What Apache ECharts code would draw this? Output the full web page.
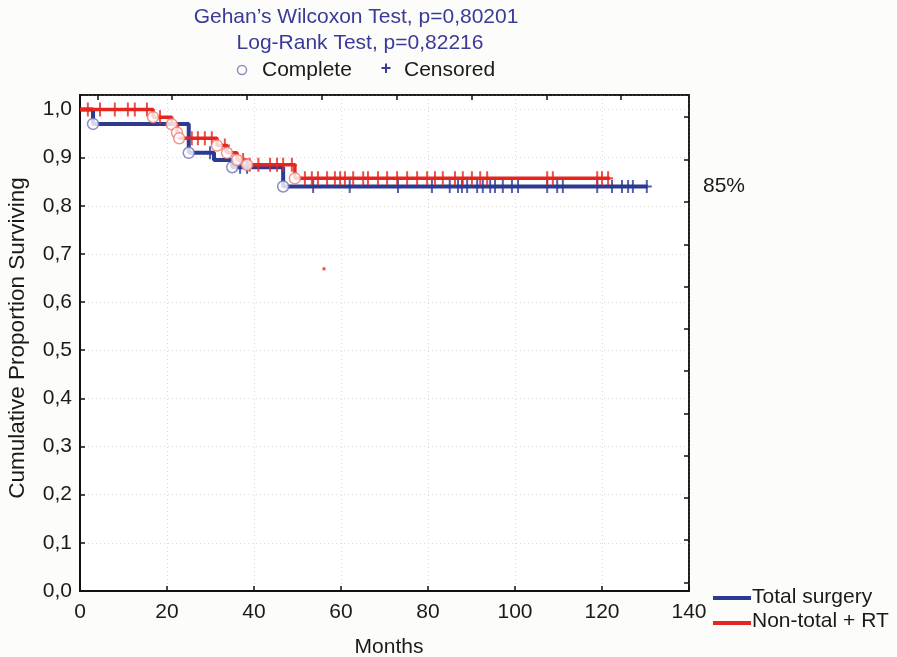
<!DOCTYPE html>
<html>
<head>
<meta charset="utf-8">
<script src="https://cdn.jsdelivr.net/npm/echarts@6/dist/echarts.min.js"></script>
<style>
html,body{margin:0;padding:0;background:#fcfcfa;}
#chart{width:897px;height:657px;}
</style>
</head>
<body>
<div id="chart"></div>
<script>
// ---- data ----
const titleLines = ['Gehan\u2019s Wilcoxon Test, p=0,80201', 'Log-Rank Test, p=0,82216'];
const seriesNames = ['Total surgery', 'Non-total + RT'];
const xTicks = [0, 20, 40, 60, 80, 100, 120, 140];
const yTicks = [0, 0.1, 0.2, 0.3, 0.4, 0.5, 0.6, 0.7, 0.8, 0.9, 1.0];
const topTickValues = [4.1, 21.2, 38.4, 55.6, 72.9, 90.0, 107.2, 124.4];
const rightTickValues = [0.018, 0.106, 0.194, 0.281, 0.369, 0.457, 0.545, 0.632, 0.720, 0.808, 0.896, 0.984];

// Kaplan-Meier steps: [time (months), survival after event]
const blueSteps = [[0, 1.0], [3, 0.97], [25, 0.91], [30.8, 0.895], [35, 0.88], [46.7, 0.84]];
const blueEnd = 130.5;
const blueEvents = [3, 25, 35, 46.7];
const blueCensored = [29.9, 36.8, 38.4, 53.6, 62, 73.1, 80.9, 85, 86.9, 87.8, 89, 91.3, 92.6, 94.3, 95.4, 97.2, 99.3, 100.7, 107.4, 109.7, 111, 118.9, 122.3, 124.6, 126, 127.1, 130.3];

const redSteps = [[0, 1.0], [16.8, 0.984], [21.1, 0.969], [22.3, 0.952], [22.8, 0.94], [31.5, 0.925], [33.8, 0.91], [36.1, 0.895], [38.4, 0.885], [49.4, 0.857]];
const redEnd = 121.8;
const redEvents = [16.8, 21.1, 22.3, 22.8, 31.5, 33.8, 36.1, 38.4, 49.4];
const redCensored = [1.8, 4.6, 8.0, 11.0, 12.6, 15.4, 18.4, 25.7, 27.1, 28.7, 30.3, 33.3, 37.5, 39.0, 41.0, 43.7, 45.3, 46.7, 48.7, 51.7, 53.3, 54.7, 56.8, 58.6, 59.8, 60.9, 62.8, 65.1, 66.2, 68.5, 70.6, 72.9, 75.2, 77.5, 79.8, 81.6, 83.4, 86.2, 88.0, 90.1, 92.0, 93.6, 107.4, 108.7, 118.9, 120.0, 121.4];
const strayPoint = [[56.1, 0.669]];
const finalLabel = '85%';
const xName = 'Months';
const yName = 'Cumulative Proportion Surviving';

// ---- helpers ----
function survAt(steps, t) {
  let s = steps[0][1];
  for (const p of steps) { if (p[0] <= t) s = p[1]; }
  return s;
}
function lineData(steps, end) { return steps.concat([[end, steps[steps.length - 1][1]]]); }
function pts(steps, times) { return times.map(t => [t, survAt(steps, t)]); }

const BLUE = '#2c3a92', RED = '#e5261e';
const BLUE_C = '#6f73b6', RED_C = '#ee7a6c';
const PLUS = 'path://M-1,-6H1V-1H5V1H1V6H-1V1H-5V-1H-1Z';
const FONT = 'Liberation Sans, Arial, sans-serif';
const FS = 21;

const chart = echarts.init(document.getElementById('chart'));
chart.setOption({
  backgroundColor: '#fcfcfa',
  animation: false,
  textStyle: { fontFamily: FONT },
  grid: { left: 80, right: 208, top: 95, bottom: 66, containLabel: false, outerBoundsMode: 'none',
    show: true, backgroundColor: '#ffffff', borderColor: '#111', borderWidth: 1.5 },
  xAxis: [{
    type: 'value', min: 0, max: 140, interval: 20,
    axisLine: { show: true, lineStyle: { color: '#111', width: 2 } },
    axisTick: { inside: true, length: 5, lineStyle: { color: '#111', width: 1.5 } },
    axisLabel: { fontSize: FS, color: '#1a1a1a', margin: 11, fontFamily: FONT },
    splitLine: { show: true, lineStyle: { color: '#d9d9d9', type: [1, 3], width: 1 } }
  }, {
    type: 'value', min: 0, max: 140, position: 'top',
    axisLine: { show: true, onZero: false, lineStyle: { color: '#111', width: 1.5 } },
    axisTick: { show: true, inside: true, length: 5, customValues: topTickValues, lineStyle: { color: '#111', width: 1.5 } },
    axisLabel: { show: false },
    splitLine: { show: false }
  }],
  yAxis: [{
    type: 'value', min: 0, max: 1.03, interval: 0.1,
    axisLine: { show: true, onZero: false, lineStyle: { color: '#111', width: 2 } },
    axisTick: { inside: true, length: 5, lineStyle: { color: '#111', width: 1.5 } },
    axisLabel: { fontSize: FS, color: '#1a1a1a', margin: 8, showMaxLabel: false, fontFamily: FONT,
      formatter: v => (yTicks.some(t => Math.abs(t - v) < 1e-6) ? v.toFixed(1).replace('.', ',') : '') },
    splitLine: { show: true, lineStyle: { color: '#d9d9d9', type: [1, 3], width: 1 } }
  }, {
    type: 'value', min: 0, max: 1.03, position: 'right',
    axisLine: { show: true, onZero: false, lineStyle: { color: '#111', width: 1.5 } },
    axisTick: { show: true, inside: true, length: 5, customValues: rightTickValues, lineStyle: { color: '#111', width: 1.5 } },
    axisLabel: { show: false },
    splitLine: { show: false }
  }],
  series: [
    { name: seriesNames[0], type: 'line', step: 'end', data: lineData(blueSteps, blueEnd), showSymbol: false,
      lineStyle: { color: BLUE, width: 4 }, z: 2 },
    { name: seriesNames[1], type: 'line', step: 'end', data: lineData(redSteps, redEnd), showSymbol: false,
      lineStyle: { color: RED, width: 3.5 }, z: 3 },
    { type: 'scatter', data: pts(blueSteps, blueCensored), symbol: PLUS, symbolSize: [10, 13],
      itemStyle: { color: BLUE }, z: 4 },
    { type: 'scatter', data: pts(redSteps, redCensored), symbol: PLUS, symbolSize: [10, 14],
      itemStyle: { color: RED }, z: 5 },
    { type: 'scatter', data: pts(blueSteps, blueEvents), symbol: 'circle', symbolSize: 11,
      itemStyle: { color: '#fff', borderColor: BLUE_C, borderWidth: 1.5 }, z: 6 },
    { type: 'scatter', data: pts(redSteps, redEvents), symbol: 'circle', symbolSize: 11,
      itemStyle: { color: '#fff', borderColor: RED_C, borderWidth: 1.5 }, z: 7 },
    { type: 'scatter', data: strayPoint, symbol: 'rect', symbolSize: 3, itemStyle: { color: RED }, z: 8 }
  ],
  graphic: [
    { type: 'text', x: 356, y: 17, style: { text: titleLines[0], fontSize: FS, fill: '#3a3a98', fontFamily: FONT, align: 'center', verticalAlign: 'middle' } },
    { type: 'text', x: 360, y: 43, style: { text: titleLines[1], fontSize: FS, fill: '#3a3a98', fontFamily: FONT, align: 'center', verticalAlign: 'middle' } },
    { type: 'circle', shape: { cx: 242, cy: 70, r: 4.5 }, style: { fill: '#fff', stroke: '#8a8dc0', lineWidth: 1.5 } },
    { type: 'text', x: 262, y: 70, style: { text: 'Complete', fontSize: FS, fill: '#1a1a1a', fontFamily: FONT, verticalAlign: 'middle' } },
    { type: 'text', x: 386, y: 69, style: { text: '+', fontSize: 18, fontWeight: 'bold', fill: '#3a3a98', fontFamily: FONT, align: 'center', verticalAlign: 'middle' } },
    { type: 'text', x: 404, y: 70, style: { text: 'Censored', fontSize: FS, fill: '#1a1a1a', fontFamily: FONT, verticalAlign: 'middle' } },
    { type: 'text', x: 389, y: 647, style: { text: xName, fontSize: FS, fill: '#1a1a1a', fontFamily: FONT, align: 'center', verticalAlign: 'middle' } },
    { type: 'text', x: 18, y: 338, rotation: Math.PI / 2, style: { text: yName, fontSize: 22.5, fill: '#1a1a1a', fontFamily: FONT, align: 'center', verticalAlign: 'middle' } },
    { type: 'text', x: 703, y: 186, style: { text: finalLabel, fontSize: FS, fill: '#1a1a1a', fontFamily: FONT, verticalAlign: 'middle' } },
    { type: 'line', shape: { x1: 713, y1: 598, x2: 751, y2: 598 }, style: { stroke: BLUE, lineWidth: 4 } },
    { type: 'text', x: 752, y: 597, style: { text: seriesNames[0], fontSize: FS, fill: '#1a1a1a', fontFamily: FONT, verticalAlign: 'middle' } },
    { type: 'line', shape: { x1: 713, y1: 623, x2: 751, y2: 623 }, style: { stroke: RED, lineWidth: 4 } },
    { type: 'text', x: 752, y: 621, style: { text: seriesNames[1], fontSize: FS, fill: '#1a1a1a', fontFamily: FONT, verticalAlign: 'middle' } }
  ]
});
</script>
</body>
</html>
